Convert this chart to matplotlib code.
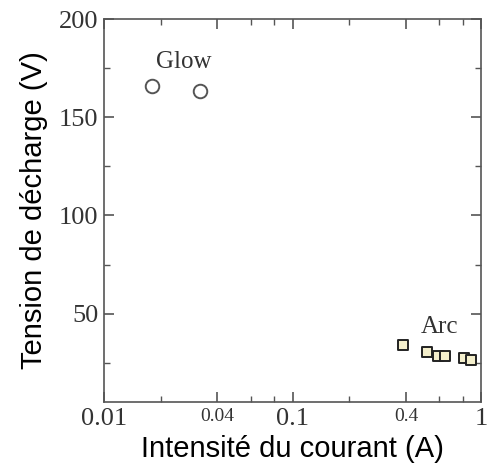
import matplotlib
matplotlib.use("Agg")
import matplotlib.pyplot as plt
from matplotlib.ticker import FixedLocator, NullFormatter
from matplotlib.transforms import ScaledTranslation

# values
glow_current = [0.018, 0.0325]
glow_voltage = [166, 163.5]
arc_current = [0.385, 0.515, 0.588, 0.642, 0.81, 0.89]
arc_voltage = [33.8, 30.3, 28.6, 28.2, 27.5, 26.5]

x_major = [0.01, 0.04, 0.1, 0.4, 1]
x_major_labels = ['0.01', '0.04', '0.1', '0.4', '1']
x_minor = [0.02, 0.06, 0.08, 0.2, 0.6, 0.8]
y_major = [50, 100, 150, 200]
y_minor = [25, 75, 125, 175]

fig = plt.figure(figsize=(4.87, 4.75), dpi=100)
ax = fig.add_axes([104 / 487, 1 - 402 / 475, (481 - 104) / 487, (402 - 19) / 475])

ax.scatter(glow_current, glow_voltage, marker='o', s=95, facecolors='white',
           edgecolors='#555555', linewidths=1.4, zorder=3, clip_on=False)
ax.scatter(arc_current, arc_voltage, marker='s', s=60, facecolors='#f4efcc',
           edgecolors='#222222', linewidths=1.4, zorder=3, clip_on=False)

ax.set_xscale('log')
ax.set_xlim(0.01, 1)
ax.set_ylim(5, 200)

ax.xaxis.set_major_locator(FixedLocator(x_major))
ax.xaxis.set_minor_locator(FixedLocator(x_minor))
ax.xaxis.set_minor_formatter(NullFormatter())
ax.set_xticklabels(x_major_labels)
ax.yaxis.set_major_locator(FixedLocator(y_major))
ax.yaxis.set_minor_locator(FixedLocator(y_minor))

serif = 'Liberation Serif'
for lab in ax.get_xticklabels() + ax.get_yticklabels():
    lab.set_fontfamily(serif)
    lab.set_fontsize(19)
    lab.set_color('#333333')
for lab in ax.get_xticklabels():
    if lab.get_text() in ('0.04', '0.4'):
        lab.set_fontsize(14)
    if lab.get_text() == '1':
        # last label sits on the figure edge, nudge it inside
        lab.set_transform(lab.get_transform() + ScaledTranslation(-4 / 100, 0, fig.dpi_scale_trans))

ax.tick_params(which='both', direction='in', top=True, right=True, color='#555555')
ax.tick_params(which='major', length=7, width=1.2, pad=4)
ax.tick_params(which='minor', length=4, width=1.0)
for s in ax.spines.values():
    s.set_color('#555555')
    s.set_linewidth(1.2)

ax.text(0.0265, 178, 'Glow', family=serif, fontsize=18, color='#333333', ha='center', va='center')
ax.text(0.6, 43, 'Arc', family=serif, fontsize=18, color='#333333', ha='center', va='center')

ax.set_xlabel('Intensité du courant (A)', family='Liberation Sans', fontsize=21, labelpad=4)
ax.set_ylabel('Tension de décharge (V)', family='Liberation Sans', fontsize=21, labelpad=8)

fig.savefig('out.png', dpi=100)
